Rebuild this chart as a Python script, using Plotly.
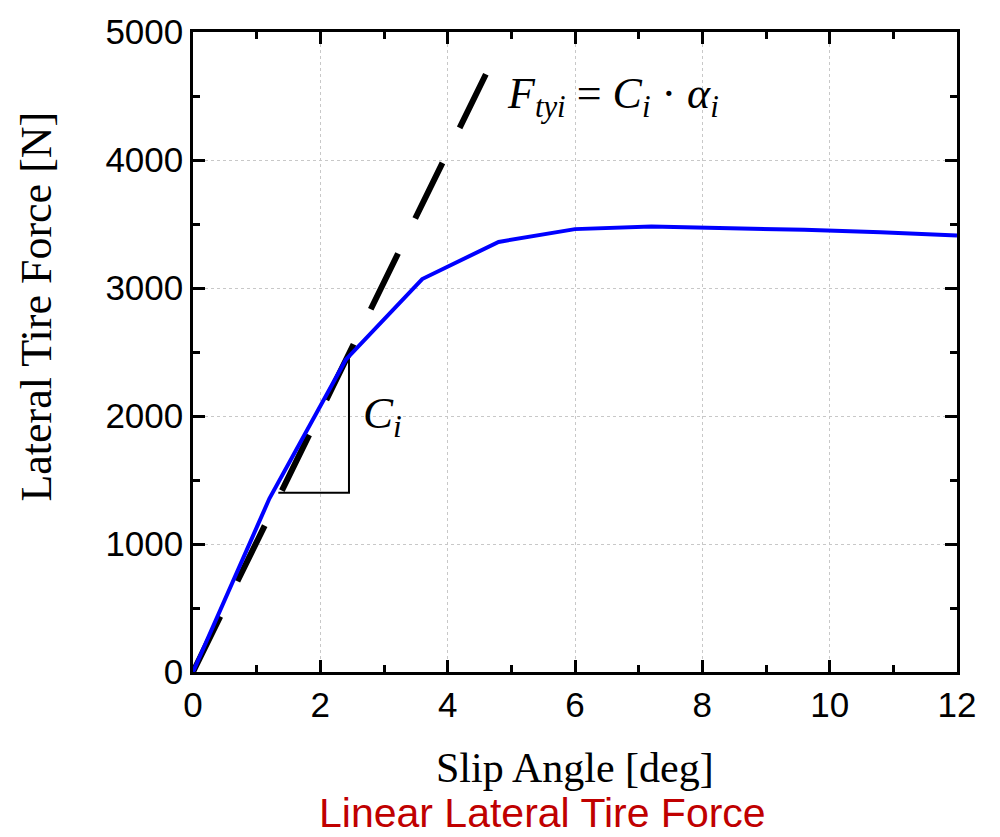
import plotly.graph_objects as go

# Data
slip_angle = [0, 1.2, 2.4, 3.6, 4.8, 6.0, 7.2, 8.4, 9.6, 10.8, 12.0]
lateral_force = [0, 1355, 2440, 3070, 3360, 3460, 3480, 3470, 3455, 3435, 3410]

linear_x = [0, 4.6]
linear_y = [0, 4670]

tri_x = [1.34, 2.45, 2.45]
tri_y = [1400, 1400, 2460]

x_ticks = [0, 2, 4, 6, 8, 10, 12]
y_ticks = [0, 1000, 2000, 3000, 4000, 5000]

fig = go.Figure()

fig.add_trace(go.Scatter(x=linear_x, y=linear_y, mode="lines",
                         line=dict(color="black", width=6, dash="62px,39px"),
                         hoverinfo="skip", showlegend=False))
fig.add_trace(go.Scatter(x=tri_x, y=tri_y, mode="lines",
                         line=dict(color="black", width=2),
                         hoverinfo="skip", showlegend=False))
fig.add_trace(go.Scatter(x=slip_angle, y=lateral_force, mode="lines",
                         line=dict(color="#0000ff", width=4),
                         showlegend=False))

serif = "Liberation Serif"
sans = "Liberation Sans"

axis_common = dict(
    showline=True, linecolor="black", linewidth=2.5, mirror="allticks",
    ticks="inside", ticklen=12, tickwidth=2.5, tickcolor="black",
    showgrid=True, gridcolor="#c8c8c8", griddash="dot", gridwidth=1,
    zeroline=False,
    tickfont=dict(family=sans, size=35, color="black"),
)

fig.update_xaxes(range=[0, 12], tickvals=x_ticks,
                 minor=dict(dtick=1, ticks="inside", ticklen=7, tickwidth=2.5,
                            tickcolor="black", showgrid=False),
                 **axis_common)
fig.update_yaxes(range=[0, 5000], tickvals=y_ticks,
                 minor=dict(dtick=500, ticks="inside", ticklen=7, tickwidth=2.5,
                            tickcolor="black", showgrid=False),
                 **axis_common)

# Axis titles
fig.add_annotation(x=0, y=0.571, xref="paper", yref="paper",
                   text="Lateral Tire Force [N]", showarrow=False, textangle=-90,
                   xanchor="center", yanchor="middle", xshift=-156,
                   font=dict(family=serif, size=44, color="black"))
fig.add_annotation(x=0.5, y=0, xref="paper", yref="paper",
                   text="Slip Angle [deg]", showarrow=False,
                   yanchor="middle", yshift=-96,
                   font=dict(family=serif, size=42, color="black"))
fig.add_annotation(x=0.5, y=0, xref="paper", yref="paper",
                   text="Linear Lateral Tire Force", showarrow=False,
                   yanchor="middle", xshift=-33, yshift=-141,
                   font=dict(family=sans, size=41, color="#c00000"))

fig.add_annotation(x=2.64, y=2000, xref="x", yref="y", xanchor="left",
                   text="<i>C</i><sub><i>i</i></sub>", showarrow=False,
                   font=dict(family=serif, size=45, color="black"))
fig.add_annotation(x=4.9, y=4500, xref="x", yref="y", xanchor="left",
                   text="<i>F</i><sub><i>tyi</i></sub> = <i>C</i><sub><i>i</i></sub> · <i>α</i><sub><i>i</i></sub>",
                   showarrow=False,
                   font=dict(family=serif, size=44, color="black"))

fig.update_layout(
    width=1000, height=837,
    margin=dict(l=193, r=43, t=26, b=165),
    plot_bgcolor="white", paper_bgcolor="white",
)

fig.write_html("out.html")
